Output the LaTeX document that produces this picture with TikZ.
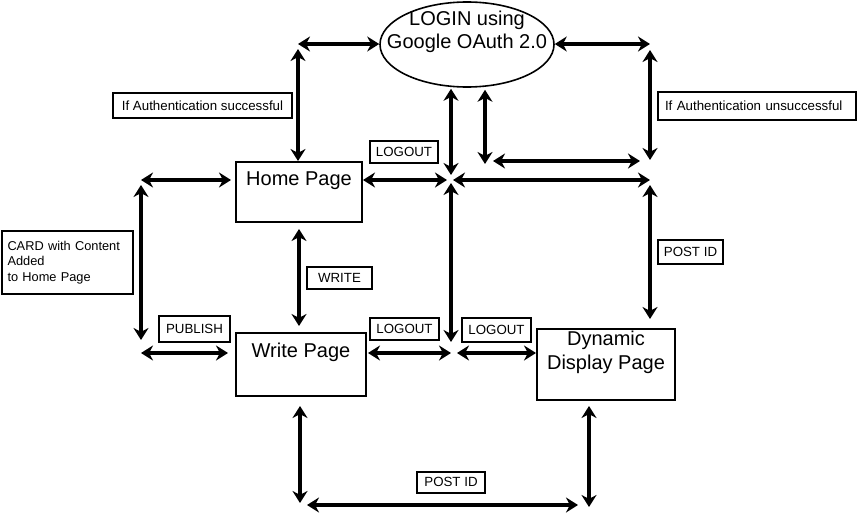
\documentclass[tikz,border=0pt]{standalone}
\usepackage{fontspec}
\setmainfont{Liberation Sans}
\usetikzlibrary{shapes.geometric, arrows.meta, positioning, calc}
\definecolor{inkblack}{RGB}{0,0,0}
\definecolor{paper}{RGB}{255,255,255}
\tikzset{
  pagebox/.style={rectangle, draw=inkblack, fill=paper, line width=2pt},
  pagetext/.style={font=\fontsize{20}{23.5}\selectfont, align=center, inner sep=0pt},
  tagbox/.style={rectangle, draw=inkblack, fill=paper, line width=2pt,
    font=\fontsize{13.3}{15.5}\selectfont, minimum height=22pt, inner xsep=6pt},
  link/.style={{Stealth[length=12pt,width=15pt]}-{Stealth[length=12pt,width=15pt]},
    line width=3.8pt, color=inkblack}
}
\begin{document}
\begin{tikzpicture}[x=1pt, y=-1pt]
  \useasboundingbox (0,0) rectangle (858,516);
  % ── Pages ──────────────────────────────────────────────────────────────────
  \node[ellipse, draw=inkblack, line width=1.6pt, minimum width=174pt, minimum height=85pt] (login) at (467,44.5) {};
  \node[pagetext, font=\fontsize{20}{23}\selectfont] (loginTxt) at (467,32) {LOGIN using\\Google OAuth 2.0};
  \node[pagebox, minimum width=126pt, minimum height=60pt] (home) at (299,192) {};
  \node[pagetext, below=11pt of home.north] (homeTxt) {Home Page};
  \node[pagebox, minimum width=130pt, minimum height=63pt] (write) at (301,364.5) {};
  \node[pagetext, below=11pt of write.north] (writeTxt) {Write Page};
  \node[pagebox, minimum width=138pt, minimum height=71pt] (dyn) at (606,364.5) {};
  \node[pagetext, below=3pt of dyn.north] (dynTxt) {Dynamic\\Display Page};
  \node[pagebox, minimum width=131pt, minimum height=63pt, text width=119pt, align=left,
    inner sep=6pt, font=\fontsize{12.8}{15.5}\selectfont] (card) at (67,262.5)
    {CARD with Content\\Added\\to Home Page};

  % ── Labels ─────────────────────────────────────────────────────────────────
  \node[tagbox, minimum width=179pt, minimum height=25pt] (okLbl) at (202.5,105.5) {If Authentication successful};
  \node[tagbox, text width=184pt, align=left, inner xsep=7pt, minimum height=28pt] (failLbl) at (757,106) {If Authentication unsuccessful};
  \node[tagbox, minimum width=68pt] (logoutA) at (404,151.5) {LOGOUT};
  \node[tagbox, minimum width=65pt] (writeLbl) at (339.5,277.5) {WRITE};
  \node[tagbox, minimum width=71pt, minimum height=26pt] (publishLbl) at (194.5,328.5) {PUBLISH};
  \node[tagbox, minimum width=67pt] (logoutB) at (404.5,328.5) {LOGOUT};
  \node[tagbox, minimum width=66pt, minimum height=24pt] (logoutC) at (496.5,329.5) {LOGOUT};
  \node[tagbox, minimum width=65pt, minimum height=24pt] (postidA) at (690.5,252) {POST ID};
  \node[tagbox, minimum width=68pt, minimum height=21pt] (postidB) at (451,482) {POST ID};

  % ── Junction points ────────────────────────────────────────────────────────
  \coordinate (tl) at (298,44);
  \coordinate (tr) at (650,44);
  \coordinate (retryL) at (485,161);
  \coordinate (retryR) at (650,161);
  \coordinate (hub) at (451,180);
  \coordinate (hubR) at (650,180);
  \coordinate (rowL) at (141,180);
  \coordinate (pubL) at (141,353);
  \coordinate (hubB) at (451,353);
  \coordinate (botL) at (300,505);
  \coordinate (botR) at (589,505);

  % ── Connectors ─────────────────────────────────────────────────────────────
  \draw[link] (tl) -- (tl -| login.west);
  \draw[link, shorten <=5pt] (tl) -- (tl |- home.north);
  \draw[link] (login.east |- tr) -- (tr);
  \draw[link, shorten <=6pt, shorten >=1pt] (tr) -- (retryR);
  \draw[link, shorten <=8pt, shorten >=10pt] (retryL) -- (retryR);
  \draw[link, shorten <=2pt, shorten >=-3pt] (retryL |- login.south) -- (retryL);
  \draw[link, shorten <=1pt, shorten >=5pt] (hub |- login.south) -- (hub);
  \draw[link, shorten >=4pt] (home.east |- hub) -- (hub);
  \draw[link, shorten <=2pt] (hub) -- (hubR);
  \draw[link, shorten <=5pt, shorten >=9pt] (hubR) -- (hubR |- dyn.north);
  \draw[link, shorten <=3pt, shorten >=11pt] (hub) -- (hubB);
  \draw[link, shorten <=1pt] (write.east |- hubB) -- (hubB);
  \draw[link, shorten <=6pt] (hubB) -- (hubB -| dyn.west);
  \draw[link, shorten >=4pt] (rowL) -- (home.west |- rowL);
  \draw[link, shorten <=5pt, shorten >=13pt] (rowL) -- (pubL);
  \draw[link, shorten >=7pt] (pubL) -- (write.west |- pubL);
  \draw[link, shorten <=6pt, shorten >=6pt] (home.south) -- (home.south |- write.north);
  \draw[link, shorten <=9pt, shorten >=2pt] (botL |- write.south) -- (botL);
  \draw[link, shorten <=7pt, shorten >=11pt] (botL) -- (botR);
  \draw[link, shorten <=5pt, shorten >=-2pt] (botR |- dyn.south) -- (botR);
\end{tikzpicture}
\end{document}
